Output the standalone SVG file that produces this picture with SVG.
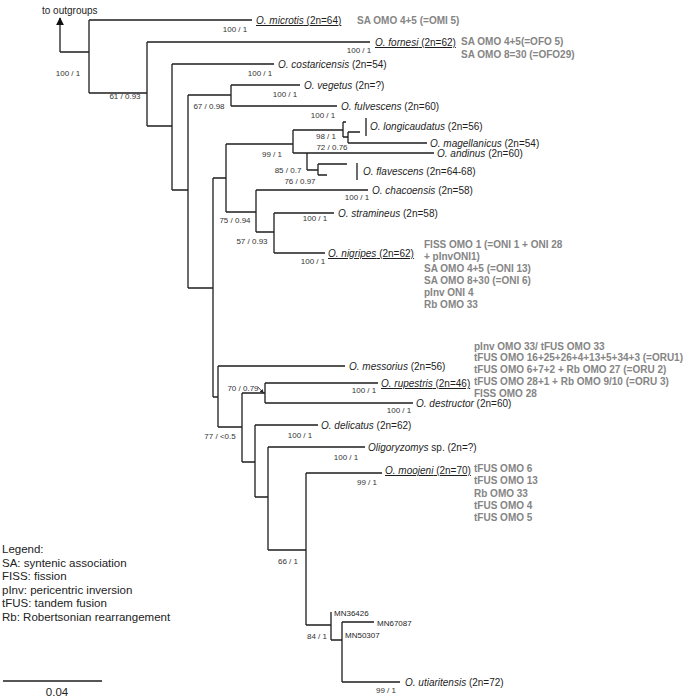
<svg xmlns="http://www.w3.org/2000/svg" width="683" height="698" viewBox="0 0 683 698">
<defs>
<marker id="ah" viewBox="0 0 10 10" refX="9" refY="5" markerWidth="8" markerHeight="8" markerUnits="userSpaceOnUse" orient="auto"><path d="M0,0 L10,5 L0,10 z" fill="#111"/></marker>
<marker id="ahs" viewBox="0 0 10 10" refX="9" refY="5" markerWidth="4" markerHeight="4" markerUnits="userSpaceOnUse" orient="auto"><path d="M0,0 L10,5 L0,10 z" fill="#222"/></marker>
<style>
.br{fill:none;stroke:#1e1e1e;stroke-width:1.3}
.sp{font-family:"Liberation Sans",Arial,sans-serif;font-size:10px;fill:#1e1e1e}
.it{font-style:italic}
.ul{text-decoration:underline}
.sup{font-family:"Liberation Sans",Arial,sans-serif;font-size:8px;fill:#333;text-anchor:middle}
.gr{font-family:"Liberation Sans",Arial,sans-serif;font-size:10px;font-weight:bold;fill:#858585}
.mn{font-family:"Liberation Sans",Arial,sans-serif;font-size:8px;fill:#1e1e1e}
.lg{font-family:"Liberation Sans",Arial,sans-serif;font-size:11.5px;fill:#222}
</style>
</defs>
<rect width="683" height="698" fill="#fff"/>
<g id="connectors">
<path class="br" d="M60,52 V18" marker-end="url(#ah)"/>
<path class="br" d="M60,52 H89 M89,20 V93 M89,20 H252 M89,93 H147 M147,42 V126 M147,42 H370 M147,126 H172 M172,64 V190 M172,64 H274 M172,190 H188 M188,95 V288 M188,95 H231 M231,85 V106 M231,85 H300 M231,106 H337"/>
<path class="br" d="M188,288 H213 M213,178 V397 M213,178 H226 M226,144 V212 M226,144 H293 M293,130 V153 M293,130 H343 M343,122 V137 M343,122 H346 M343,137 H348 M348,132 V143 M348,132 H360 M348,143 H427 M366,118 V136 M293,153 H434 M307,153 V170 M307,170 H318 M318,164 V175 M318,164 H347 M318,175 H327 M357,163 V180"/>
<path class="br" d="M226,212 H256 M256,190 V232 M256,190 H368 M256,232 H274 M274,213 V253 M274,213 H334 M274,253 H325"/>
<path class="br" d="M213,397 H218 M218,366 V427 M218,366 H345 M218,427 H242 M242,393 V462 M242,393 H265 M265,383 V403 M265,383 H378 M265,403 H413 M242,462 H255 M255,425 V497 M255,425 H318 M255,497 H268 M268,447 V550 M268,447 H365 M268,550 H306 M306,473 V625 M306,473 H382 M306,625 H331 M331,612 V640 M331,640 H342 M342,622 V682 M342,622 H374 M342,682 H400"/>
<path d="M258,387 L263.5,393" stroke="#222" stroke-width="0.8" fill="none" marker-end="url(#ahs)"/>
</g>
<g id="outgroups"><text class="sp" x="42" y="14">to outgroups</text></g>
<g id="supports">
<text class="sup" x="68" y="76">100 / 1</text>
<text class="sup" x="235" y="32">100 / 1</text>
<text class="sup" x="125" y="99">61 / 0.93</text>
<text class="sup" x="359" y="53">100 / 1</text>
<text class="sup" x="260" y="76">100 / 1</text>
<text class="sup" x="285" y="97">100 / 1</text>
<text class="sup" x="209" y="109">67 / 0.98</text>
<text class="sup" x="323" y="118">100 / 1</text>
<text class="sup" x="272" y="157">99 / 1</text>
<text class="sup" x="326" y="139">98 / 1</text>
<text class="sup" x="332" y="150">72 / 0.76</text>
<text class="sup" x="288" y="173">85 / 0.7</text>
<text class="sup" x="300" y="184">76 / 0.97</text>
<text class="sup" x="357" y="200">100 / 1</text>
<text class="sup" x="235" y="223">75 / 0.94</text>
<text class="sup" x="315" y="221">100 / 1</text>
<text class="sup" x="252" y="244">57 / 0.93</text>
<text class="sup" x="313" y="264">100 / 1</text>
<text class="sup" x="243" y="391">70 / 0.79</text>
<text class="sup" x="364" y="393">100 / 1</text>
<text class="sup" x="399" y="413">100 / 1</text>
<text class="sup" x="220" y="439">77 / &lt;0.5</text>
<text class="sup" x="300" y="438">100 / 1</text>
<text class="sup" x="346" y="460">100 / 1</text>
<text class="sup" x="367" y="485">99 / 1</text>
<text class="sup" x="288" y="564">66 / 1</text>
<text class="sup" x="317" y="639">84 / 1</text>
<text class="sup" x="386" y="693">99 / 1</text>
</g>
<g id="microtis"><text class="sp ul" x="256" y="24"><tspan class="it">O. microtis</tspan> (2n=64)</text>
<text class="gr" x="357" y="24">SA OMO 4+5 (=OMI 5)</text></g>
<g id="fornesi"><text class="sp ul" x="375" y="46"><tspan class="it">O. fornesi</tspan> (2n=62)</text>
<text class="gr" x="461" y="45">SA OMO 4+5(=OFO 5)</text>
<text class="gr" x="461" y="57.5">SA OMO 8=30 (=OFO29)</text></g>
<g id="costaricensis"><text class="sp" x="278" y="68"><tspan class="it">O. costaricensis</tspan> (2n=54)</text></g>
<g id="vegetus"><text class="sp" x="304" y="89"><tspan class="it">O. vegetus</tspan> (2n=?)</text></g>
<g id="fulvescens"><text class="sp" x="341" y="110"><tspan class="it">O. fulvescens</tspan> (2n=60)</text></g>
<g id="longicaudatus"><text class="sp" x="370" y="130"><tspan class="it">O. longicaudatus</tspan> (2n=56)</text></g>
<g id="magellanicus"><text class="sp" x="430" y="147"><tspan class="it">O. magellanicus</tspan> (2n=54)</text></g>
<g id="andinus"><text class="sp" x="437" y="157"><tspan class="it">O. andinus</tspan> (2n=60)</text></g>
<g id="flavescens"><text class="sp" x="363" y="175"><tspan class="it">O. flavescens</tspan> (2n=64-68)</text></g>
<g id="chacoensis"><text class="sp" x="372" y="194"><tspan class="it">O. chacoensis</tspan> (2n=58)</text></g>
<g id="stramineus"><text class="sp" x="338" y="217"><tspan class="it">O. stramineus</tspan> (2n=58)</text></g>
<g id="nigripes"><text class="sp ul" x="328" y="257"><tspan class="it">O. nigripes</tspan> (2n=62)</text>
<text class="gr" x="424" y="248">FISS OMO 1 (=ONI 1 + ONI 28</text>
<text class="gr" x="424" y="260">+ pInvONI1)</text>
<text class="gr" x="424" y="272">SA OMO 4+5 (=ONI 13)</text>
<text class="gr" x="424" y="284">SA OMO 8+30 (=ONI 6)</text>
<text class="gr" x="424" y="296">pInv ONI 4</text>
<text class="gr" x="424" y="308">Rb OMO 33</text></g>
<g id="messorius"><text class="sp" x="349" y="370"><tspan class="it">O. messorius</tspan> (2n=56)</text></g>
<g id="rupestris"><text class="sp ul" x="381" y="387"><tspan class="it">O. rupestris</tspan> (2n=46)</text>
<text class="gr" x="474" y="349.6">pInv OMO 33/ tFUS OMO 33</text>
<text class="gr" x="474" y="361.4">tFUS OMO 16+25+26+4+13+5+34+3 (=ORU1)</text>
<text class="gr" x="474" y="373.1">tFUS OMO 6+7+2 + Rb OMO 27 (=ORU 2)</text>
<text class="gr" x="474" y="384.8">tFUS OMO 28+1 + Rb OMO 9/10 (=ORU 3)</text>
<text class="gr" x="474" y="396.5">FISS OMO 28</text></g>
<g id="destructor"><text class="sp" x="416" y="407"><tspan class="it">O. destructor</tspan> (2n=60)</text></g>
<g id="delicatus"><text class="sp" x="321" y="429"><tspan class="it">O. delicatus</tspan> (2n=62)</text></g>
<g id="oligoryzomys"><text class="sp" x="368" y="451"><tspan class="it">Oligoryzomys</tspan> sp. (2n=?)</text></g>
<g id="moojeni"><text class="sp ul" x="385" y="474"><tspan class="it">O. moojeni</tspan> (2n=70)</text>
<text class="gr" x="474" y="472">tFUS OMO 6</text>
<text class="gr" x="474" y="484.3">tFUS OMO 13</text>
<text class="gr" x="474" y="496.6">Rb OMO 33</text>
<text class="gr" x="474" y="508.9">tFUS OMO 4</text>
<text class="gr" x="474" y="521.2">tFUS OMO 5</text></g>
<g id="MN36426"><text class="mn" x="334" y="616">MN36426</text></g>
<g id="MN67087"><text class="mn" x="377" y="626">MN67087</text></g>
<g id="MN50307"><text class="mn" x="345" y="638">MN50307</text></g>
<g id="utiaritensis"><text class="sp" x="405" y="686"><tspan class="it">O. utiaritensis</tspan> (2n=72)</text></g>
<g id="legend">
<text class="lg" x="2" y="553">Legend:</text>
<text class="lg" x="2" y="566.6">SA: syntenic association</text>
<text class="lg" x="2" y="580.2">FISS: fission</text>
<text class="lg" x="2" y="593.8">pInv: pericentric inversion</text>
<text class="lg" x="2" y="607.4">tFUS: tandem fusion</text>
<text class="lg" x="2" y="621">Rb: Robertsonian rearrangement</text>
</g>
<g id="scalebar">
<path class="br" d="M3,681 H102"/>
<text class="lg" x="57" y="696" text-anchor="middle" font-size="11">0.04</text>
</g>
</svg>
